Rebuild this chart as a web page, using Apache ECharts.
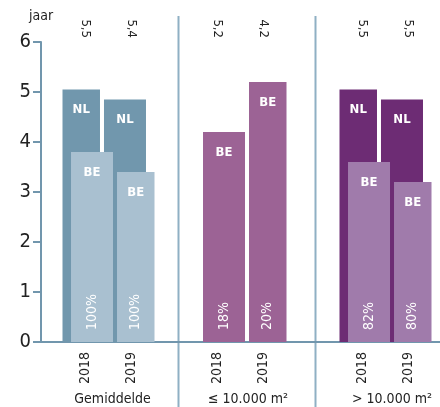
<!DOCTYPE html>
<html>
<head>
<meta charset="utf-8">
<script src="https://cdn.jsdelivr.net/npm/echarts@6/dist/echarts.min.js"></script>
<style>
  html, body { margin: 0; padding: 0; background: #fff; }
  #main { width: 440px; height: 407px; }
</style>
</head>
<body>
<div id="main"></div>
<script>
// data
var years = ['2018', '2019'];
var groups = ['Gemiddelde', '≤ 10.000 m²', '> 10.000 m²'];
var nlValues = [[5.05, 4.85], [null, null], [5.05, 4.85]];
var beValues = [[3.8, 3.4], [4.2, 5.2], [3.6, 3.2]];
var topLabels = [['5,5', '5,4'], ['5,2', '4,2'], ['5,5', '5,5']];
var pctLabels = [['100%', '100%'], ['18%', '20%'], ['82%', '80%']];
var yTicks = [0, 1, 2, 3, 4, 5, 6];

// styles
var nlColors = ['#7197ad', '#9c6395', '#6d2c74'];
var beColors = ['#a9c0d0', '#9c6395', '#a07bab'];
var gridLefts = [62.5, 194.5, 339.5];
var nameShift = [8, 15, 13];
var font = '"Liberation Sans Narrow", "DejaVu Sans Condensed", sans-serif';
var axisColor = '#7196ad';

var chart = echarts.init(document.getElementById('main'));

var grid = [{ left: 41, right: 0, top: 42, height: 300, outerBoundsMode: 'none' }];
var xAxis = [{
  gridIndex: 0, type: 'value', min: 0, max: 1,
  axisLine: { show: true, lineStyle: { color: axisColor, width: 2 } },
  axisTick: { show: false }, axisLabel: { show: false }, splitLine: { show: false }
}];
var yAxis = [{
  gridIndex: 0, type: 'value', min: yTicks[0], max: yTicks[yTicks.length - 1], interval: 1,
  name: 'jaar', nameLocation: 'end', nameGap: 19,
  nameTextStyle: { fontFamily: font, fontSize: 14, color: '#222' },
  axisLine: { show: true, lineStyle: { color: axisColor, width: 2 } },
  axisTick: { show: true, inside: false, length: 8, lineStyle: { color: axisColor, width: 2 } },
  axisLabel: { fontFamily: font, fontSize: 20, color: '#222', margin: 10 },
  splitLine: { show: false }
}];
var series = [];

groups.forEach(function (g, i) {
  var gi = i + 1;
  grid.push({ left: gridLefts[i], width: 92, top: 42, height: 300, outerBoundsMode: 'none' });
  // bottom: years + group name
  xAxis.push({
    gridIndex: gi, type: 'category', data: years, position: 'bottom',
    name: g, nameLocation: 'middle', nameGap: 48,
    nameTextStyle: { fontFamily: font, fontSize: 14, color: '#222', padding: [0, 0, 0, nameShift[i]] },
    axisLine: { show: false }, axisTick: { show: false },
    axisLabel: { rotate: 90, margin: 10, fontFamily: font, fontSize: 14, color: '#222' }
  });
  // top: value labels
  xAxis.push({
    gridIndex: gi, type: 'category', data: topLabels[i], position: 'top',
    axisLine: { show: false }, axisTick: { show: false },
    axisLabel: { rotate: 90, margin: 4, fontFamily: font, fontSize: 13, color: '#222' }
  });
  yAxis.push({ gridIndex: gi, type: 'value', min: 0, max: 6, show: false });

  var bottomIdx = 1 + i * 2;
  var topIdx = 2 + i * 2;
  var barLabel = {
    show: true, position: 'insideTop', distance: 14,
    fontFamily: font, fontSize: 13, fontWeight: 'bold', color: '#fff'
  };
  series.push({
    type: 'bar', xAxisIndex: bottomIdx, yAxisIndex: gi, data: nlValues[i],
    barWidth: 42, barGap: '-69%', itemStyle: { color: nlColors[i] },
    label: Object.assign({ formatter: 'NL' }, barLabel)
  });
  series.push({
    type: 'bar', xAxisIndex: bottomIdx, yAxisIndex: gi, data: beValues[i],
    barWidth: 42, barGap: '-69%', itemStyle: { color: beColors[i] },
    label: Object.assign({ formatter: 'BE' }, barLabel)
  });
  // percentage labels sit on the same layout via the top axis
  series.push({
    type: 'bar', xAxisIndex: topIdx, yAxisIndex: gi, data: [null, null],
    barWidth: 42, barGap: '-69%', itemStyle: { color: 'transparent' }
  });
  series.push({
    type: 'bar', xAxisIndex: topIdx, yAxisIndex: gi, data: beValues[i],
    barWidth: 42, barGap: '-69%', z: 5, itemStyle: { color: 'transparent' },
    label: {
      show: true, position: 'insideBottom', distance: 12, rotate: 90,
      align: 'left', verticalAlign: 'middle',
      fontFamily: font, fontSize: 14, color: '#fff',
      formatter: function (p) { return pctLabels[i][p.dataIndex]; }
    }
  });
});

chart.setOption({
  animation: false,
  grid: grid,
  xAxis: xAxis,
  yAxis: yAxis,
  series: series,
  graphic: [
    { type: 'line', shape: { x1: 178.5, y1: 16, x2: 178.5, y2: 407 }, style: { stroke: '#8fb0c4', lineWidth: 2 } },
    { type: 'line', shape: { x1: 315.5, y1: 16, x2: 315.5, y2: 407 }, style: { stroke: '#8fb0c4', lineWidth: 2 } }
  ]
});
</script>
</body>
</html>
